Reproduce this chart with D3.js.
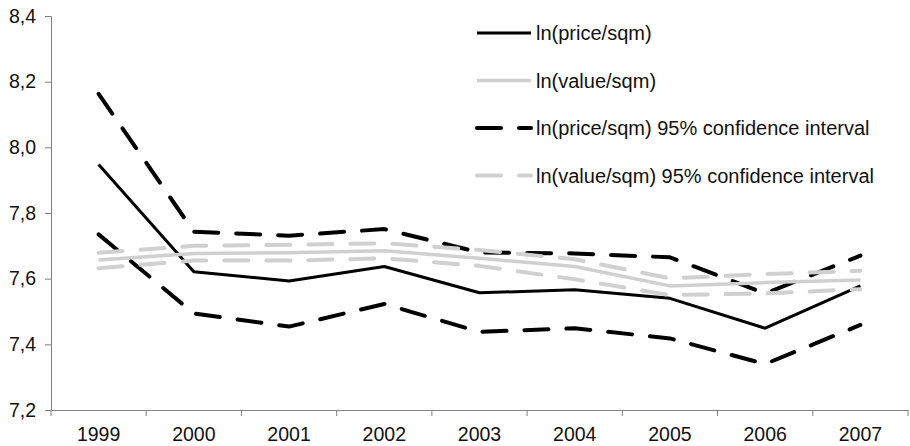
<!DOCTYPE html>
<html>
<head>
<meta charset="utf-8">
<style>
  body { margin: 0; background: #fff; }
  svg { display: block; font-family: "Liberation Sans", Arial, sans-serif; }
</style>
</head>
<body>
<div id="container"></div>
<script src="https://cdn.jsdelivr.net/npm/d3@7"></script>
<script>
// data
const years = ["1999", "2000", "2001", "2002", "2003", "2004", "2005", "2006", "2007"];
const price      = [7.948, 7.621, 7.593, 7.637, 7.557, 7.566, 7.540, 7.449, 7.578];
const priceUpper = [8.163, 7.743, 7.731, 7.751, 7.680, 7.677, 7.665, 7.555, 7.670];
const priceLower = [7.735, 7.494, 7.454, 7.523, 7.438, 7.449, 7.418, 7.340, 7.459];
const value      = [7.657, 7.677, 7.679, 7.685, 7.662, 7.637, 7.578, 7.588, 7.596];
const valueUpper = [7.679, 7.700, 7.703, 7.708, 7.687, 7.659, 7.601, 7.614, 7.624];
const valueLower = [7.632, 7.655, 7.655, 7.662, 7.639, 7.598, 7.550, 7.555, 7.568];
const yTicks = [7.2, 7.4, 7.6, 7.8, 8.0, 8.2, 8.4];
const legendLabels = [
  "ln(price/sqm)",
  "ln(value/sqm)",
  "ln(price/sqm) 95% confidence interval",
  "ln(value/sqm) 95% confidence interval"
];

const width = 910, height = 446;
const margin = { left: 51, right: 2, top: 16, bottom: 36 };

const svg = d3.select("#container").append("svg")
  .attr("width", width)
  .attr("height", height);

const x = d3.scaleBand()
  .domain(years)
  .range([margin.left, width - margin.right]);

const y = d3.scaleLinear()
  .domain([7.2, 8.4])
  .range([height - margin.bottom, margin.top]);

const black = "#000", grey = "#d0d0d0";
const dash = "24 18";

// series in draw order: black ones first, grey on top
const series = [
  { values: price,      color: black, dashed: false, width: 3 },
  { values: priceUpper, color: black, dashed: true,  width: 4 },
  { values: priceLower, color: black, dashed: true,  width: 4 },
  { values: value,      color: grey,  dashed: false, width: 3.5 },
  { values: valueUpper, color: grey,  dashed: true,  width: 4 },
  { values: valueLower, color: grey,  dashed: true,  width: 4 }
];

// axes
const xAxis = svg.append("g")
  .attr("transform", `translate(0,${y(7.2)})`)
  .call(d3.axisBottom(x).tickSize(0).tickPadding(17));
xAxis.select(".domain").attr("stroke", "#808080");
xAxis.selectAll("text").attr("font-size", 19.5).attr("fill", "#111");

// tick marks on the band edges
svg.append("g").selectAll("line")
  .data(years.map(d => x(d)).concat([x(years[years.length - 1]) + x.bandwidth()]))
  .join("line")
  .attr("x1", d => d).attr("x2", d => d)
  .attr("y1", y(7.2)).attr("y2", y(7.2) + 6)
  .attr("stroke", "#808080");

const yAxis = svg.append("g")
  .attr("transform", `translate(${margin.left},0)`)
  .call(d3.axisLeft(y).tickValues(yTicks).tickSize(6).tickPadding(9)
    .tickFormat(d => d3.format(".1f")(d).replace(".", ",")));
yAxis.select(".domain").attr("stroke", "#808080");
yAxis.selectAll(".tick line").attr("stroke", "#808080");
yAxis.selectAll("text").attr("font-size", 19.5).attr("fill", "#111");

// lines
const line = d3.line()
  .x((d, i) => x(years[i]) + x.bandwidth() / 2)
  .y(d => y(d));

svg.append("g").selectAll("path")
  .data(series)
  .join("path")
  .attr("d", d => line(d.values))
  .attr("fill", "none")
  .attr("stroke", d => d.color)
  .attr("stroke-width", d => d.width)
  .attr("stroke-dasharray", d => d.dashed ? dash : null)
  .attr("stroke-linecap", d => d.dashed ? "round" : "butt")
  .attr("stroke-linejoin", "round");

// legend
const legendItems = [
  { color: black, dashed: false, width: 3 },
  { color: grey,  dashed: false, width: 3.5 },
  { color: black, dashed: true,  width: 4 },
  { color: grey,  dashed: true,  width: 4 }
];

const legend = svg.append("g").attr("transform", "translate(477,33)");
const rows = legend.selectAll("g")
  .data(legendItems)
  .join("g")
  .attr("transform", (d, i) => `translate(0,${i * 47.5})`);

rows.append("line")
  .attr("x1", 0).attr("x2", 54)
  .attr("stroke", d => d.color)
  .attr("stroke-width", d => d.width)
  .attr("stroke-dasharray", d => d.dashed ? dash : null)
  .attr("stroke-linecap", d => d.dashed ? "round" : "butt");

rows.append("text")
  .attr("x", 59)
  .attr("y", 7)
  .attr("font-size", 20)
  .attr("fill", "#111")
  .text((d, i) => legendLabels[i]);
</script>
</body>
</html>
